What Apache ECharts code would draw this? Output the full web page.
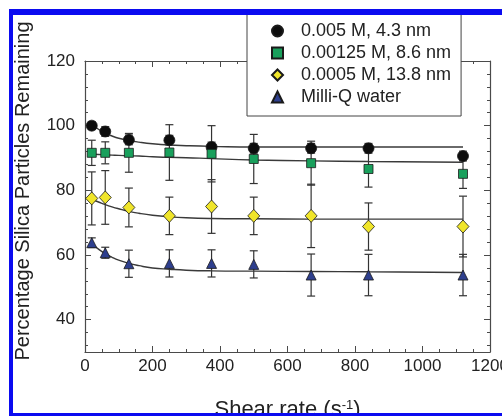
<!DOCTYPE html>
<html>
<head>
<meta charset="utf-8">
<script src="https://cdn.jsdelivr.net/npm/echarts@6/dist/echarts.min.js"></script>
<style>
  html, body { margin: 0; padding: 0; background: #fff; }
  #chart { width: 502px; height: 416px; }
</style>
</head>
<body>
<div id="chart"></div>
<script>
// shear rates where the particles were counted (s^-1)
const shearRate = [20, 60, 130, 250, 375, 500, 670, 840, 1120];

// percentage remaining, with +/- error, per salt concentration
const mean005 = [100, 98.2, 95.6, 95.5, 93.4, 93.0, 93.0, 93.0, 90.6];
const err005 = [1.2, 1.5, 1.5, 1.5, 1.5, 1.5, 1.5, 1.5, 1.5];
const mean00125 = [91.6, 91.6, 91.6, 91.7, 91.3, 89.7, 88.4, 86.6, 85.1];
const err00125 = [3.9, 3.4, 6.0, 8.6, 8.7, 7.6, 6.8, 5.6, 4.5];
const mean0005 = [77.5, 77.8, 74.7, 72.1, 75.0, 72.1, 72.1, 68.8, 68.8];
const err0005 = [8.2, 8.3, 6.0, 5.8, 8.3, 5.8, 9.8, 7.3, 9.4];
const meanWater = [63.8, 60.7, 57.3, 57.4, 57.4, 57.1, 53.8, 53.8, 53.8];
const errWater = [1.5, 1.7, 4.2, 4.2, 4.2, 4.2, 6.5, 6.4, 6.4];

// fitted curves
const fitX = [20, 40, 60, 80, 100, 130, 160, 200, 250, 300, 375, 500, 670, 840, 1120];
const fit005 = [100.3, 98.9, 97.7, 96.8, 96.1, 95.4, 94.9, 94.4, 94.0, 93.8, 93.6, 93.4, 93.4, 93.4, 93.4];
const fit00125 = [91.2, 91.1, 91.0, 90.9, 90.8, 90.7, 90.6, 90.4, 90.2, 90.1, 89.8, 89.4, 89.1, 88.9, 88.7];
const fit0005 = [77.2, 76.4, 75.6, 74.9, 74.3, 73.5, 72.9, 72.3, 71.8, 71.5, 71.3, 71.2, 71.1, 71.1, 71.1];
const fitWater = [63.5, 61.8, 60.4, 59.3, 58.4, 57.4, 56.7, 56.0, 55.6, 55.3, 55.1, 55.0, 54.9, 54.8, 54.6];

const legendNames = ['0.005 M, 4.3 nm', '0.00125 M, 8.6 nm', '0.0005 M, 13.8 nm', 'Milli-Q water'];
const yMajorTicks = [40, 60, 80, 100, 120];
const yMinorTicks = [32, 36, 44, 48, 52, 56, 64, 68, 72, 76, 84, 88, 92, 96, 104, 108, 112, 116];

const font = 'Liberation Sans';

function pairs(xs, ys) {
  return xs.map((x, i) => [x, ys[i]]);
}

function markerSeries(name, means, symbol, size, color) {
  return {
    name: name,
    type: 'scatter',
    data: pairs(shearRate, means),
    symbol: symbol,
    symbolSize: size,
    itemStyle: { color: color, borderColor: '#1a1a1a', borderWidth: 0.8, opacity: 1 },
    z: 5
  };
}

function fitSeries(ys) {
  return {
    type: 'line',
    data: pairs(fitX, ys),
    smooth: true,
    showSymbol: false,
    lineStyle: { color: '#3a3a3a', width: 1.4 },
    z: 3
  };
}

function errorSeries(means, errs) {
  return {
    type: 'custom',
    data: shearRate.map((x, i) => [x, means[i] - errs[i], means[i] + errs[i]]),
    renderItem: function (params, api) {
      const lo = api.coord([api.value(0), api.value(1)]);
      const hi = api.coord([api.value(0), api.value(2)]);
      const w = 4;
      const st = { stroke: '#333', lineWidth: 1.2 };
      return {
        type: 'group',
        children: [
          { type: 'line', shape: { x1: lo[0], y1: lo[1], x2: hi[0], y2: hi[1] }, style: st },
          { type: 'line', shape: { x1: lo[0] - w, y1: lo[1], x2: lo[0] + w, y2: lo[1] }, style: st },
          { type: 'line', shape: { x1: hi[0] - w, y1: hi[1], x2: hi[0] + w, y2: hi[1] }, style: st }
        ]
      };
    },
    z: 2
  };
}

function xAx(pos, labels) {
  return {
    type: 'value', position: pos, min: 0, max: 1200, interval: 200,
    axisLine: { show: true, lineStyle: { color: '#4a4a4a', width: 1.2 } },
    axisTick: { show: true, inside: true, length: 6, lineStyle: { color: '#4a4a4a' } },
    minorTick: { show: true, splitNumber: 4, length: 3, lineStyle: { color: '#4a4a4a' } },
    axisLabel: { show: labels, margin: 6, color: '#222', fontSize: 17, fontFamily: font, formatter: v => String(v) },
    splitLine: { show: false }
  };
}

function yAx(pos, ticks, len, labels, line) {
  return {
    type: 'value', position: pos, min: 30, max: 120,
    axisLine: { show: line, lineStyle: { color: '#4a4a4a', width: 1.2 } },
    axisTick: { show: true, inside: true, length: len, customValues: ticks, lineStyle: { color: '#4a4a4a' } },
    axisLabel: { show: labels, customValues: yMajorTicks, margin: 10, color: '#222', fontSize: 17, fontFamily: font },
    splitLine: { show: false }
  };
}

const chart = echarts.init(document.getElementById('chart'));
const blue = '#0b0bf0';

chart.setOption({
  animation: false,
  backgroundColor: '#fff',
  textStyle: { fontFamily: font },
  grid: { left: 85, right: 12, top: 61, bottom: 64, outerBoundsMode: 'none' },
  legend: {
    data: legendNames,
    orient: 'vertical',
    left: 247,
    top: 10,
    padding: [12, 10, 10, 24],
    itemWidth: 11,
    itemHeight: 11,
    itemGap: 4,
    backgroundColor: '#fff',
    borderColor: '#444',
    borderWidth: 1,
    borderRadius: 0,
    textStyle: { fontSize: 18, lineHeight: 18, color: '#222', padding: [0, 0, 0, 13] },
    z: 10
  },
  xAxis: [
    Object.assign(xAx('bottom', true), {
      name: 'Shear rate (s{sup|-1})',
      nameLocation: 'middle',
      nameGap: 47,
      nameTextStyle: {
        fontSize: 22, lineHeight: 22, color: '#222',
        rich: { sup: { fontSize: 13, lineHeight: 22, verticalAlign: 'top', color: '#222' } }
      }
    }),
    xAx('top', false)
  ],
  yAxis: [
    yAx('left', yMajorTicks, 6, true, true),
    yAx('left', yMinorTicks, 3, false, false),
    yAx('right', yMajorTicks, 6, false, true),
    yAx('right', yMinorTicks, 3, false, false)
  ],
  graphic: [
    {
      type: 'text', x: 23, y: 191, rotation: Math.PI / 2,
      style: {
        text: 'Percentage Silica Particles Remaining',
        font: '20px "Liberation Sans"', fill: '#222',
        align: 'center', verticalAlign: 'middle'
      },
      z: 50
    },
    { type: 'rect', shape: { x: 0, y: 0, width: 502, height: 9 }, style: { fill: '#fff' }, z: 100 },
    { type: 'rect', shape: { x: 0, y: 0, width: 9, height: 416 }, style: { fill: '#fff' }, z: 100 },
    { type: 'rect', shape: { x: 9, y: 9, width: 493, height: 6 }, style: { fill: blue }, z: 101 },
    { type: 'rect', shape: { x: 9, y: 9, width: 4, height: 407 }, style: { fill: blue }, z: 101 },
    { type: 'rect', shape: { x: 9, y: 413, width: 493, height: 3 }, style: { fill: blue }, z: 101 }
  ],
  series: [
    fitSeries(fit005),
    fitSeries(fit00125),
    fitSeries(fit0005),
    fitSeries(fitWater),
    errorSeries(mean005, err005),
    errorSeries(mean00125, err00125),
    errorSeries(mean0005, err0005),
    errorSeries(meanWater, errWater),
    markerSeries(legendNames[0], mean005, 'circle', 11, '#0d0d0d'),
    markerSeries(legendNames[1], mean00125, 'rect', 9, '#19a05c'),
    markerSeries(legendNames[2], mean0005, 'diamond', [12, 13], '#f0e52a'),
    markerSeries(legendNames[3], meanWater, 'triangle', 10, '#2e3f8e')
  ]
});
</script>
</body>
</html>
